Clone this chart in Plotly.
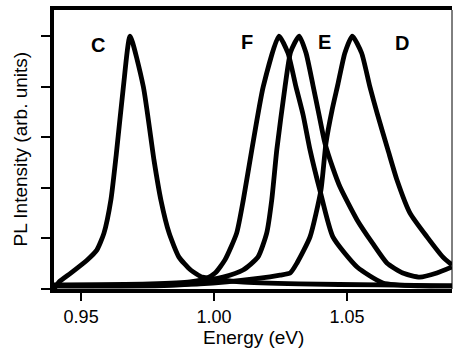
import plotly.graph_objects as go

# Energy (eV) / intensity (arb. units)
c_energy = [0.9398, 0.9417, 0.9461, 0.9523, 0.9559, 0.9586, 0.9612, 0.9632, 0.9659, 0.9684,
            0.9734, 0.9774, 0.9800, 0.9831, 0.9868, 0.9912, 0.9955, 0.9977, 1.0098, 1.0320, 1.0620, 1.0895]
c_int = [0.0, 0.028, 0.063, 0.115, 0.154, 0.221, 0.352, 0.53, 0.80, 1.0,
         0.80, 0.51, 0.352, 0.221, 0.126, 0.075, 0.047, 0.043, 0.028, 0.02, 0.016, 0.012]

f_energy = [0.9398, 0.9760, 0.9910, 0.9973, 1.0004, 1.0041, 1.0085, 1.0110, 1.0142, 1.0185, 1.0244,
            1.0278, 1.0308, 1.0335, 1.0361, 1.0398, 1.0447, 1.0538, 1.0635, 1.0774, 1.0895]
f_int = [0.016, 0.02, 0.028, 0.043, 0.063, 0.115, 0.221, 0.352, 0.55, 0.80, 1.0,
         0.933, 0.80, 0.688, 0.55, 0.391, 0.206, 0.087, 0.024, 0.012, 0.012]

e_energy = [0.9398, 0.9872, 1.0034, 1.0109, 1.0165, 1.0198, 1.0217, 1.0236, 1.0267, 1.0288, 1.0320,
            1.0346, 1.0372, 1.0395, 1.0417, 1.0447, 1.0474, 1.0538, 1.0598, 1.0650, 1.0710, 1.0774, 1.0838, 1.0895]
e_int = [0.012, 0.016, 0.047, 0.075, 0.126, 0.221, 0.352, 0.55, 0.80, 0.937, 1.0,
         0.933, 0.806, 0.688, 0.577, 0.478, 0.403, 0.273, 0.178, 0.103, 0.063, 0.047, 0.063, 0.087]

d_energy = [0.9398, 0.9947, 1.0173, 1.0248, 1.0286, 1.0312, 1.0361, 1.0402, 1.0421, 1.0444, 1.0466,
            1.0492, 1.0520, 1.0555, 1.0586, 1.0613, 1.0654, 1.0688, 1.0737, 1.0801, 1.0861, 1.0895]
d_int = [0.012, 0.02, 0.043, 0.055, 0.063, 0.103, 0.206, 0.391, 0.577, 0.708, 0.810,
         0.933, 1.0, 0.933, 0.80, 0.696, 0.55, 0.431, 0.30, 0.206, 0.126, 0.095]

curve_names = ["C", "F", "E", "D"]
label_energy = [0.9562, 1.0123, 1.0414, 1.0707]
label_int = [0.964, 0.978, 0.978, 0.974]

x_range = [0.9398, 1.0895]
y_range = [0, 1.103]
x_ticks = [0.95, 1.00, 1.05]
x_tick_text = ["0.95", "1.00", "1.05"]
y_ticks = [0, 0.2, 0.4, 0.6, 0.8, 1.0]

FONT = "Liberation Sans, Arial, sans-serif"

fig = go.Figure()
for name, xs, ys in zip(curve_names,
                        [c_energy, f_energy, e_energy, d_energy],
                        [c_int, f_int, e_int, d_int]):
    fig.add_trace(go.Scatter(x=xs, y=ys, mode="lines", name=name,
                             line=dict(color="black", width=4.8, shape="spline", smoothing=0.55),
                             showlegend=False, hoverinfo="skip"))

for name, lx, ly in zip(curve_names, label_energy, label_int):
    fig.add_annotation(x=lx, y=ly, text="<b>%s</b>" % name, showarrow=False,
                       font=dict(family=FONT, size=20, color="black"),
                       xanchor="center", yanchor="middle")

# axis titles placed in pixels relative to the plot area
fig.add_annotation(xref="paper", yref="paper", x=0, y=0.5, xshift=-34,
                   text="PL Intensity (arb. units)", textangle=-90, showarrow=False,
                   font=dict(family=FONT, size=19, color="black"),
                   xanchor="center", yanchor="middle")
fig.add_annotation(xref="paper", yref="paper", x=0.5, y=0, yshift=-48,
                   text="Energy (eV)", showarrow=False,
                   font=dict(family=FONT, size=19, color="black"),
                   xanchor="center", yanchor="middle")

# thin right border
fig.add_shape(type="line", xref="paper", yref="paper", x0=1, x1=1, y0=0, y1=1,
              line=dict(color="black", width=1))

fig.update_layout(
    width=453, height=358,
    margin=dict(l=54, r=1, t=10, b=69, autoexpand=False),
    paper_bgcolor="white", plot_bgcolor="white",
    font=dict(family=FONT, color="black"),
    xaxis=dict(range=x_range, tickvals=x_ticks, ticktext=x_tick_text,
               ticks="outside", ticklen=8, tickwidth=2, tickcolor="black",
               showline=True, linewidth=4, linecolor="black", mirror=True,
               showgrid=False, zeroline=False, automargin=False,
               tickfont=dict(family=FONT, size=18)),
    yaxis=dict(range=y_range, tickvals=y_ticks, showticklabels=False,
               ticks="outside", ticklen=9, tickwidth=2, tickcolor="black",
               showline=True, linewidth=4, linecolor="black",
               showgrid=False, zeroline=False, automargin=False),
)

fig.write_html("out.html", config={"displayModeBar": False},
               post_script="document.body.style.margin='0';document.body.style.padding='0';")
